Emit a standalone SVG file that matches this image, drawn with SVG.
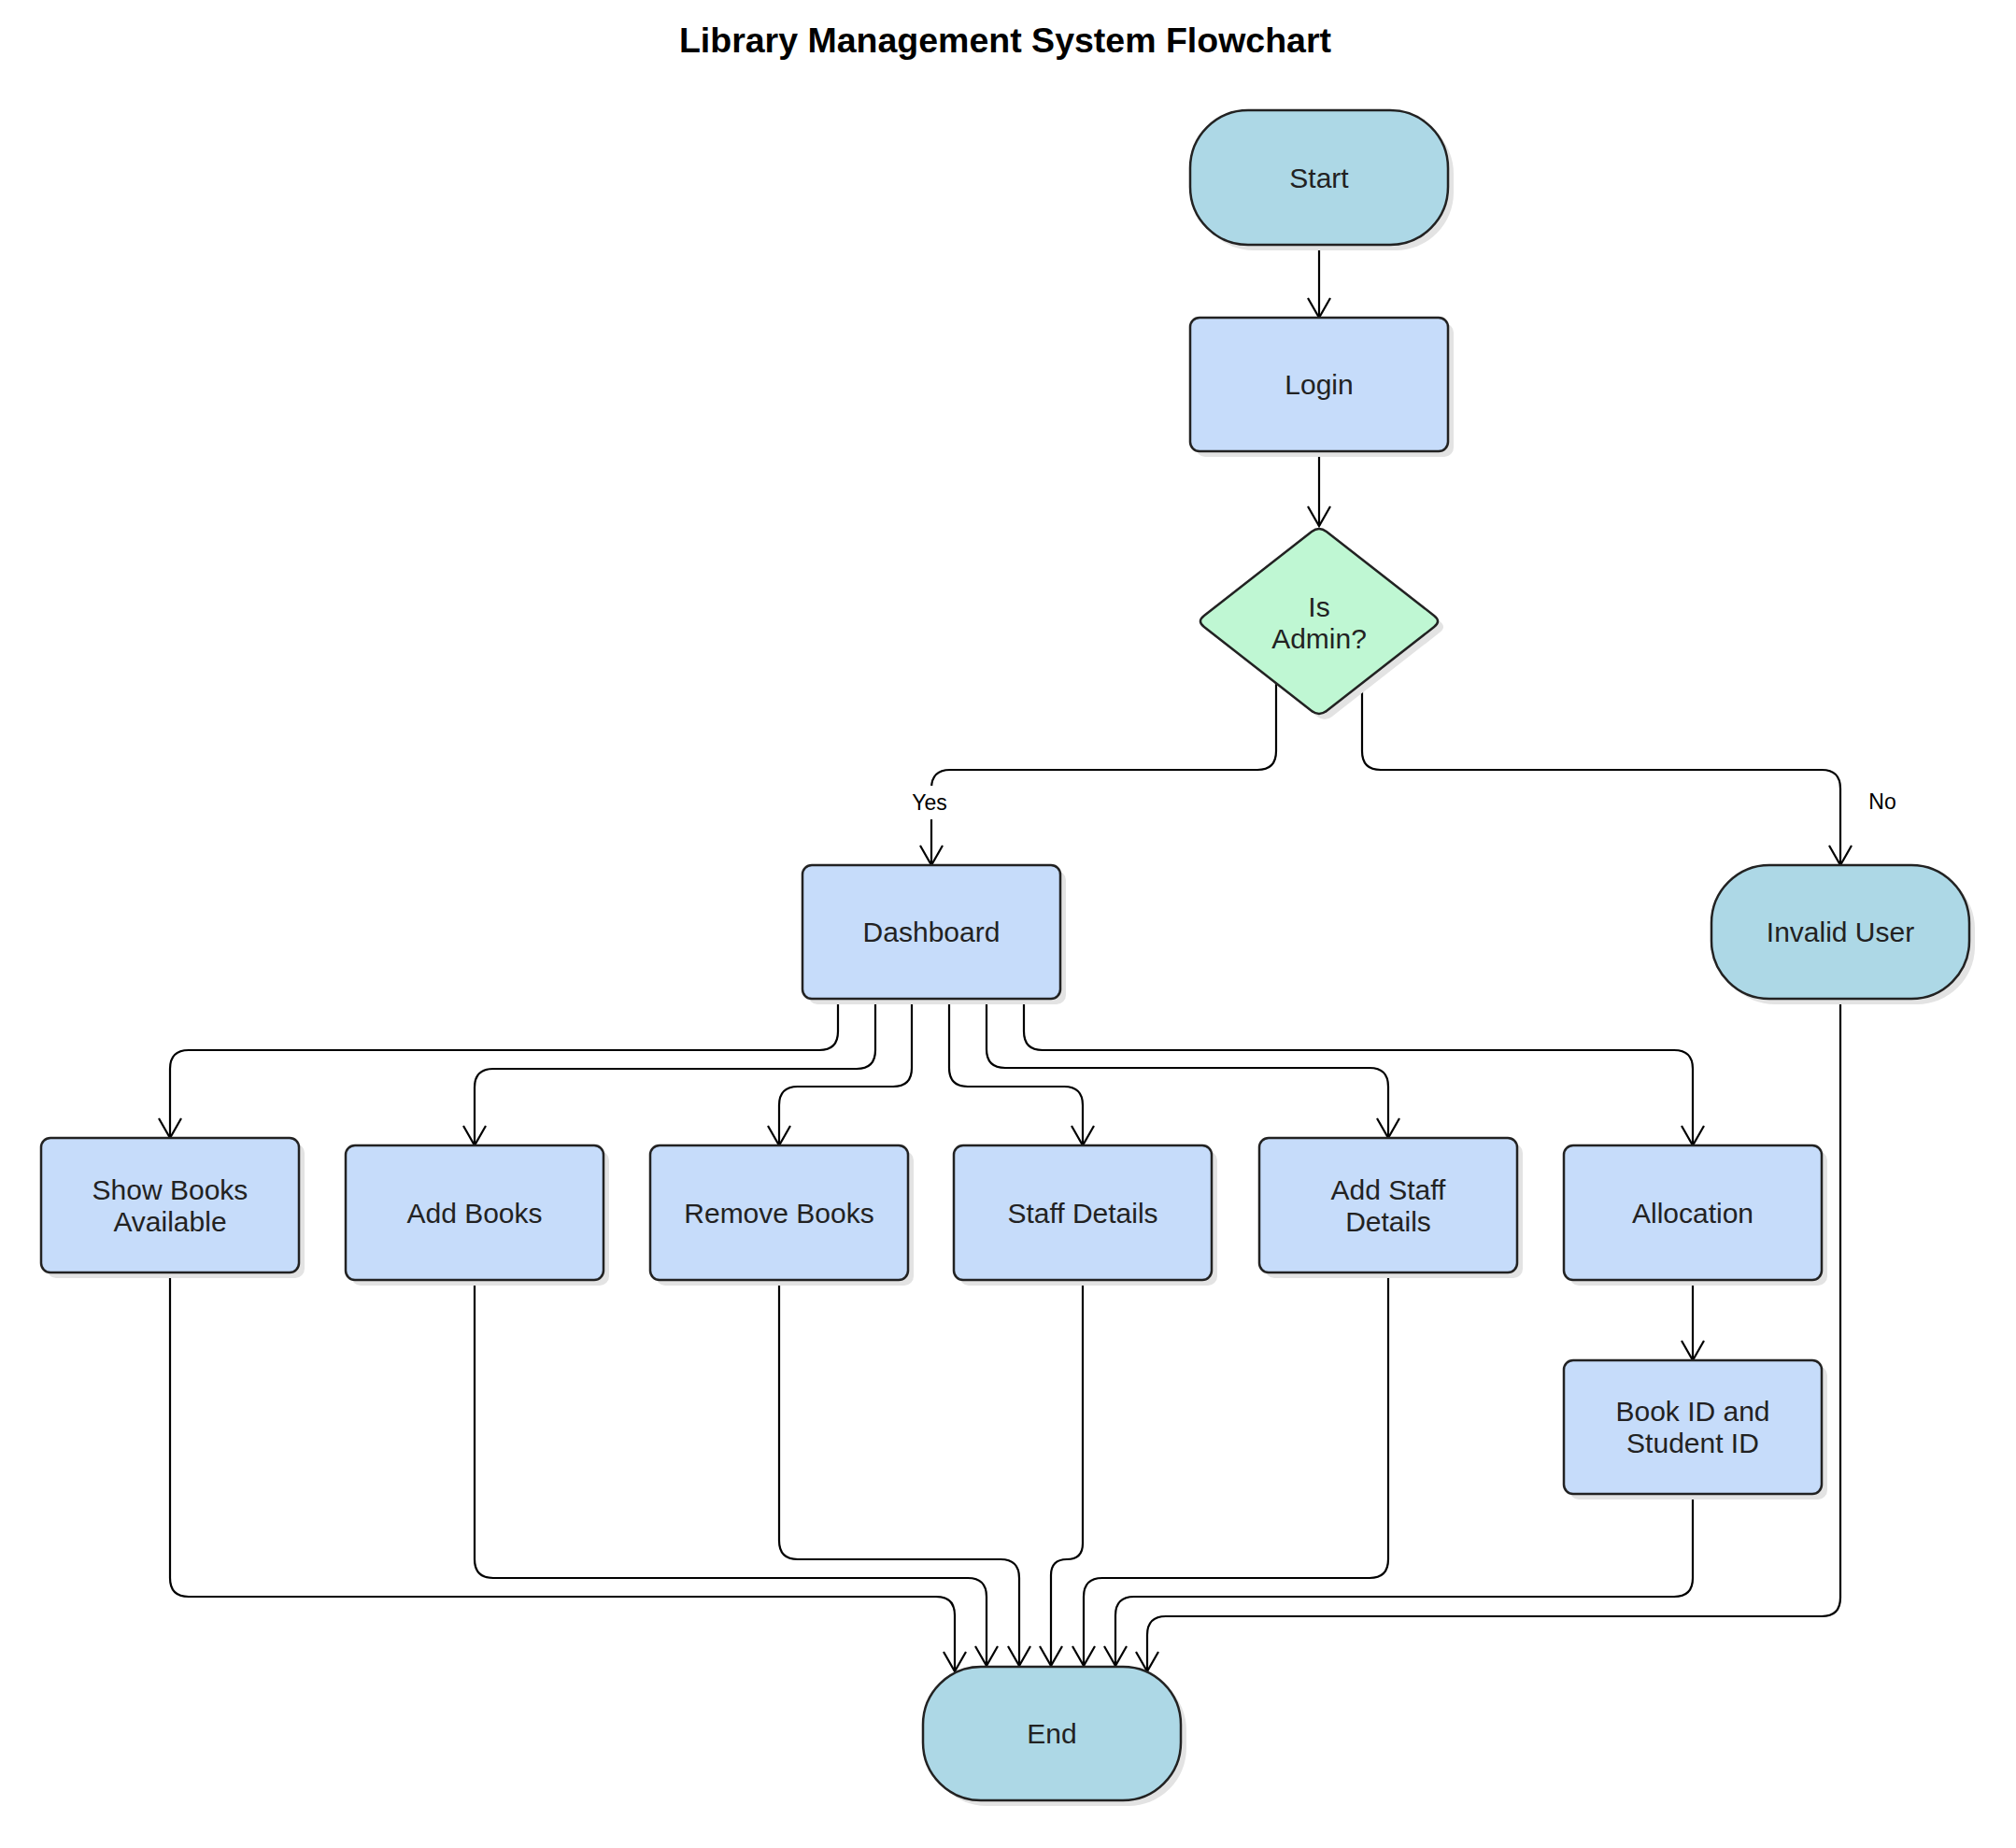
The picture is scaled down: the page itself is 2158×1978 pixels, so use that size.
<svg xmlns="http://www.w3.org/2000/svg" width="2158" height="1978" viewBox="0 0 2158 1978">
<style>
.term{fill:#add8e6;stroke:#222;stroke-width:2.5}
.proc{fill:#c6dcfa;stroke:#222;stroke-width:2.5}
.dec{fill:#bff7d3;stroke:#222;stroke-width:2.5}
.shadow{fill:#e3e3e3;stroke:none}
.lbl{font-family:"Liberation Sans",Arial,sans-serif;font-size:30px;fill:#222;text-anchor:middle;dominant-baseline:central}
.elbl{font-family:"Liberation Sans",Arial,sans-serif;font-size:23px;fill:#000;text-anchor:middle;dominant-baseline:central}
.title{font-family:"Liberation Sans",Arial,sans-serif;font-size:37.5px;font-weight:bold;fill:#000;text-anchor:middle}
.edge{fill:none;stroke:#000;stroke-width:2.2;marker-end:url(#arr)}
</style>
<defs>
<marker id="arr" markerUnits="userSpaceOnUse" orient="auto" refX="0" refY="0" markerWidth="30" markerHeight="30" viewBox="-25 -15 30 30" style="overflow:visible">
<path d="M-21,-12 L0,0 L-21,12" fill="none" stroke="#000" stroke-width="2.2"/>
</marker>
</defs>
<rect width="2158" height="1978" fill="#fff"/>
<text class="title" x="1076" y="56">Library Management System Flowchart</text>

<g id="connectors">
<path class="edge" d="M1412 262 V340"/>
<path class="edge" d="M1412 483 V563"/>
<path class="edge" d="M1366 731 V804 Q1366 824 1346 824 H1017 Q997 824 997 844 V926"/>
<path class="edge" d="M1458 731 V804 Q1458 824 1478 824 H1950 Q1970 824 1970 844 V926"/>
<path class="edge" d="M897 1069 V1104 Q897 1124 877 1124 H202 Q182 1124 182 1144 V1218"/>
<path class="edge" d="M937 1069 V1124 Q937 1144 917 1144 H528 Q508 1144 508 1164 V1226"/>
<path class="edge" d="M976 1069 V1143 Q976 1163 956 1163 H854 Q834 1163 834 1183 V1226"/>
<path class="edge" d="M1016 1069 V1143 Q1016 1163 1036 1163 H1139 Q1159 1163 1159 1183 V1226"/>
<path class="edge" d="M1056 1069 V1123 Q1056 1143 1076 1143 H1466 Q1486 1143 1486 1163 V1218"/>
<path class="edge" d="M1096 1069 V1104 Q1096 1124 1116 1124 H1792 Q1812 1124 1812 1144 V1226"/>
<path class="edge" d="M1812 1370 V1456"/>
<path class="edge" d="M182 1362 V1689 Q182 1709 202 1709 H1002 Q1022 1709 1022 1729 V1789"/>
<path class="edge" d="M508 1370 V1669 Q508 1689 528 1689 H1036 Q1056 1689 1056 1709 V1783"/>
<path class="edge" d="M834 1370 V1649 Q834 1669 854 1669 H1071 Q1091 1669 1091 1689 V1783"/>
<path class="edge" d="M1159 1370 V1652 Q1159 1669 1142 1669 Q1125 1669 1125 1686 V1783"/>
<path class="edge" d="M1486 1362 V1669 Q1486 1689 1466 1689 H1180 Q1160 1689 1160 1709 V1783"/>
<path class="edge" d="M1812 1599 V1689 Q1812 1709 1792 1709 H1214 Q1194 1709 1194 1729 V1783"/>
<path class="edge" d="M1970 1069 V1710 Q1970 1730 1950 1730 H1248 Q1228 1730 1228 1750 V1789"/>
<rect x="972" y="841" width="48" height="36" fill="#fff"/>
<text class="elbl" x="995" y="859">Yes</text>
<text class="elbl" x="2015" y="858">No</text>
</g>

<g id="start">
<rect class="shadow" x="1280" y="124" width="276" height="144" rx="62"/>
<rect class="term" x="1274" y="118" width="276" height="144" rx="62"/>
<text class="lbl" x="1412" y="190">Start</text>
</g>
<g id="login">
<rect class="shadow" x="1280" y="346" width="276" height="143" rx="10"/>
<rect class="proc" x="1274" y="340" width="276" height="143" rx="10"/>
<text class="lbl" x="1412" y="411">Login</text>
</g>
<g id="isadmin">
<path class="shadow" transform="translate(6,6)" d="M1404.1 569.1 Q1412 563 1419.9 569.1 L1535.1 658.9 Q1543 665 1535.1 671.1 L1419.9 760.9 Q1412 767 1404.1 760.9 L1288.9 671.1 Q1281 665 1288.9 658.9 Z"/>
<path class="dec" d="M1404.1 569.1 Q1412 563 1419.9 569.1 L1535.1 658.9 Q1543 665 1535.1 671.1 L1419.9 760.9 Q1412 767 1404.1 760.9 L1288.9 671.1 Q1281 665 1288.9 658.9 Z"/>
<text class="lbl" x="1412" y="649">Is</text>
<text class="lbl" x="1412" y="683">Admin?</text>
</g>
<g id="dashboard">
<rect class="shadow" x="865" y="932" width="276" height="143" rx="10"/>
<rect class="proc" x="859" y="926" width="276" height="143" rx="10"/>
<text class="lbl" x="997" y="997">Dashboard</text>
</g>
<g id="invalid">
<rect class="shadow" x="1838" y="932" width="276" height="143" rx="62"/>
<rect class="term" x="1832" y="926" width="276" height="143" rx="62"/>
<text class="lbl" x="1970" y="997">Invalid User</text>
</g>
<g id="showbooks">
<rect class="shadow" x="50" y="1224" width="276" height="144" rx="10"/>
<rect class="proc" x="44" y="1218" width="276" height="144" rx="10"/>
<text class="lbl" x="182" y="1273">Show Books</text>
<text class="lbl" x="182" y="1307">Available</text>
</g>
<g id="addbooks">
<rect class="shadow" x="376" y="1232" width="276" height="144" rx="10"/>
<rect class="proc" x="370" y="1226" width="276" height="144" rx="10"/>
<text class="lbl" x="508" y="1298">Add Books</text>
</g>
<g id="removebooks">
<rect class="shadow" x="702" y="1232" width="276" height="144" rx="10"/>
<rect class="proc" x="696" y="1226" width="276" height="144" rx="10"/>
<text class="lbl" x="834" y="1298">Remove Books</text>
</g>
<g id="staffdetails">
<rect class="shadow" x="1027" y="1232" width="276" height="144" rx="10"/>
<rect class="proc" x="1021" y="1226" width="276" height="144" rx="10"/>
<text class="lbl" x="1159" y="1298">Staff Details</text>
</g>
<g id="addstaff">
<rect class="shadow" x="1354" y="1224" width="276" height="144" rx="10"/>
<rect class="proc" x="1348" y="1218" width="276" height="144" rx="10"/>
<text class="lbl" x="1486" y="1273">Add Staff</text>
<text class="lbl" x="1486" y="1307">Details</text>
</g>
<g id="allocation">
<rect class="shadow" x="1680" y="1232" width="276" height="144" rx="10"/>
<rect class="proc" x="1674" y="1226" width="276" height="144" rx="10"/>
<text class="lbl" x="1812" y="1298">Allocation</text>
</g>
<g id="bookid">
<rect class="shadow" x="1680" y="1462" width="276" height="143" rx="10"/>
<rect class="proc" x="1674" y="1456" width="276" height="143" rx="10"/>
<text class="lbl" x="1812" y="1510">Book ID and</text>
<text class="lbl" x="1812" y="1544">Student ID</text>
</g>
<g id="end">
<rect class="shadow" x="994" y="1790" width="276" height="143" rx="62"/>
<rect class="term" x="988" y="1784" width="276" height="143" rx="62"/>
<text class="lbl" x="1126" y="1855">End</text>
</g>
</svg>
